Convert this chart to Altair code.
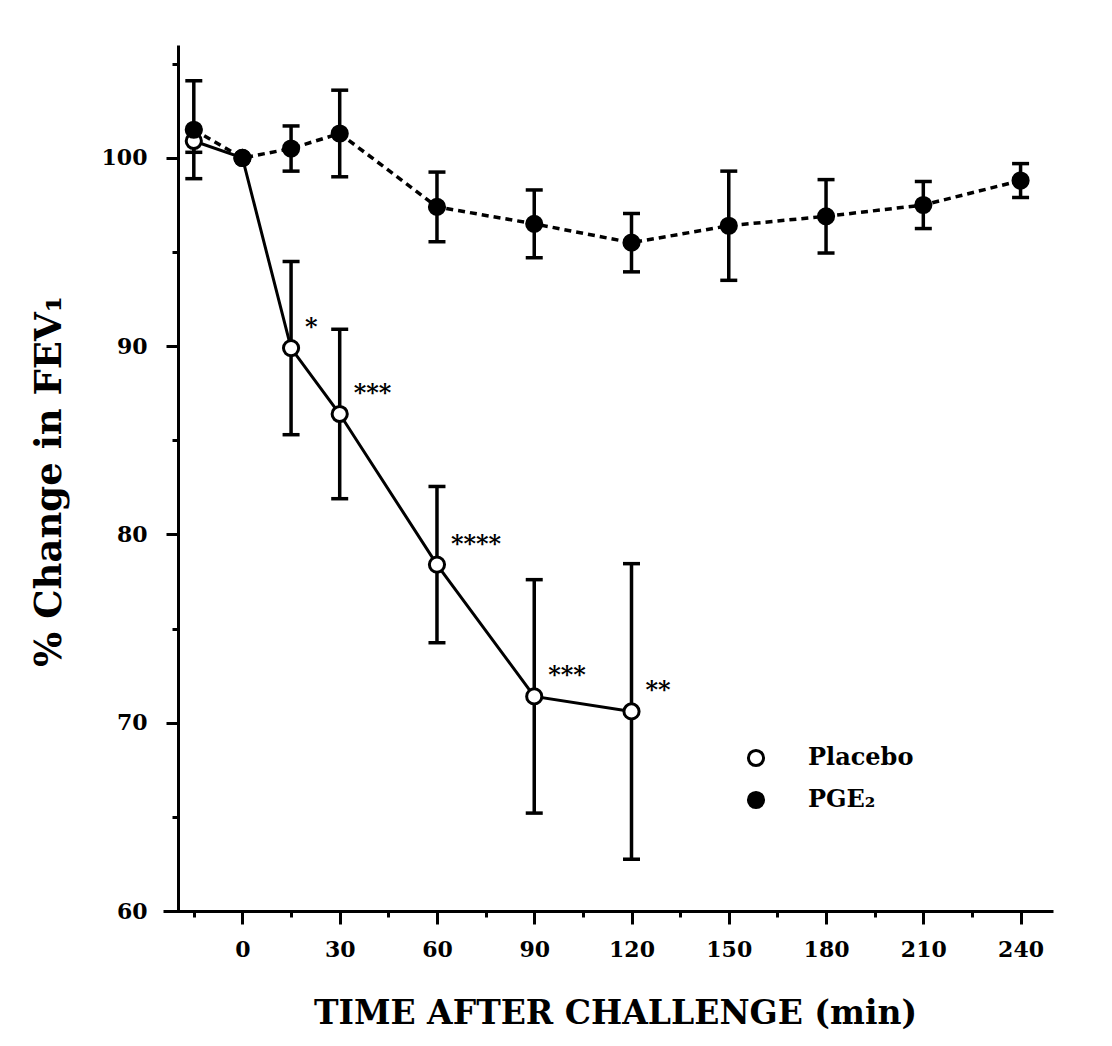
import altair as alt
import pandas as pd

# ---- data ----
series_names = ["Placebo", "PGE₂"]

placebo_t = [-15, 0, 15, 30, 60, 90, 120]
placebo_mean = [100.9, 100.0, 89.9, 86.4, 78.4, 71.4, 70.6]
placebo_sem = [0.6, 0.0, 4.6, 4.5, 4.15, 6.2, 7.85]

pge_t = [-15, 0, 15, 30, 60, 90, 120, 150, 180, 210, 240]
pge_mean = [101.5, 100.0, 100.5, 101.3, 97.4, 96.5, 95.5, 96.4, 96.9, 97.5, 98.8]
pge_sem = [2.6, 0.0, 1.2, 2.3, 1.85, 1.8, 1.55, 2.9, 1.95, 1.25, 0.9]

star_t = [15, 30, 60, 90, 120]
star_text = ["*", "***", "****", "***", "**"]

x_ticks = [-15, 0, 15, 30, 45, 60, 75, 90, 105, 120, 135, 150, 165, 180, 195, 210, 225, 240]
y_ticks = [60, 65, 70, 75, 80, 85, 90, 95, 100, 105]

x_title = "TIME AFTER CHALLENGE (min)"
y_title = "% Change in FEV₁"

# ---- tables ----
rows = []
for t, m, s in zip(placebo_t, placebo_mean, placebo_sem):
    rows.append({"t": t, "mean": m, "sem": s, "series": series_names[0]})
for t, m, s in zip(pge_t, pge_mean, pge_sem):
    rows.append({"t": t, "mean": m, "sem": s, "series": series_names[1]})
df = pd.DataFrame(rows)
df["lo"] = df["mean"] - df["sem"]
df["hi"] = df["mean"] + df["sem"]
df["order"] = range(len(df))

pl_lookup = dict(zip(placebo_t, placebo_mean))
stars = pd.DataFrame({"t": star_t, "mean": [pl_lookup[t] for t in star_t], "txt": star_text})

FONT = "DejaVu Serif"

xscale = alt.Scale(domain=[-24.5, 250], nice=False, zero=False)
yscale = alt.Scale(domain=[60, 106], nice=False, zero=False)

xaxis = alt.Axis(
    values=x_ticks,
    labelExpr="datum.value % 30 === 0 ? datum.label : ''",
    tickSize={"condition": {"test": "datum.value % 30 === 0", "value": 13}, "value": 6},
    title=x_title, grid=False,
    domainColor="black", domainWidth=3, tickColor="black", tickWidth=3,
    labelFont=FONT, labelFontSize=22, labelFontWeight="bold", labelColor="black",
    labelPadding=15, labelFlush=False, labelOverlap=False,
    titleFont=FONT, titleFontSize=33, titleFontWeight="bold", titleColor="black",
    titleX=452, titleY=112, titleBaseline="alphabetic",
)
yaxis = alt.Axis(
    values=y_ticks,
    labelExpr="datum.value % 10 === 0 ? datum.label : ''",
    tickSize={"condition": {"test": "datum.value % 10 === 0", "value": 12}, "value": 6},
    title=y_title, grid=False, offset=-15,
    domainColor="black", domainWidth=3, tickColor="black", tickWidth=3,
    labelFont=FONT, labelFontSize=22, labelFontWeight="bold", labelColor="black",
    labelPadding=19, labelFlush=False, labelOverlap=False,
    titleFont=FONT, titleFontSize=37, titleFontWeight="bold", titleColor="black",
    titleX=-118, titleY=436, titleAngle=270, titleBaseline="alphabetic", titleAlign="center",
)

X = alt.X("t:Q", scale=xscale, axis=xaxis)
Y = alt.Y("mean:Q", scale=yscale, axis=yaxis)

base = alt.Chart(df)
errs = base.transform_filter("datum.sem > 0")

err_rule = errs.mark_rule(color="black", strokeWidth=3.5, opacity=1).encode(
    x=X, y=alt.Y("lo:Q", scale=yscale, axis=yaxis), y2="hi:Q"
)
cap_lo = errs.mark_tick(color="black", orient="horizontal", size=17, thickness=3.5, opacity=1).encode(
    x=X, y=alt.Y("lo:Q", scale=yscale, axis=yaxis)
)
cap_hi = errs.mark_tick(color="black", orient="horizontal", size=17, thickness=3.5, opacity=1).encode(
    x=X, y=alt.Y("hi:Q", scale=yscale, axis=yaxis)
)

line_pl = base.transform_filter(alt.datum.series == series_names[0]).mark_line(
    color="black", strokeWidth=3
).encode(x=X, y=Y)
line_pge = base.transform_filter(alt.datum.series == series_names[1]).mark_line(
    color="black", strokeWidth=3.5, strokeDash=[7, 5]
).encode(x=X, y=Y)

points = base.mark_circle(size=230, stroke="black", strokeWidth=3, opacity=1).encode(
    x=X, y=Y,
    fill=alt.Fill(
        "series:N",
        scale=alt.Scale(domain=series_names, range=["white", "black"]),
        legend=alt.Legend(
            title=None, orient="none", legendX=581, legendY=701, padding=0,
            symbolType="circle", symbolSize=230, symbolStrokeColor="black",
            symbolStrokeWidth=3, symbolOpacity=1,
            labelFont=FONT, labelFontSize=24, labelFontWeight="bold", labelColor="black",
            labelOffset=40, rowPadding=14,
        ),
    ),
    order=alt.Order("order:Q"),
)

star_marks = alt.Chart(stars).mark_text(
    align="left", baseline="middle", dx=14, dy=-20, font=FONT, fontSize=24,
    fontWeight="bold", color="black"
).encode(x=X, y=Y, text="txt:N")

chart = alt.layer(err_rule, cap_lo, cap_hi, line_pl, line_pge, points, star_marks).properties(
    width=890, height=866,
    autosize=alt.AutoSizeParams(type="none"),
    padding={"left": 155, "top": 37, "right": 50, "bottom": 125},
    background="white",
).configure_view(stroke=None)

chart.save("out.html", embed_options={"renderer": "svg", "actions": False})
